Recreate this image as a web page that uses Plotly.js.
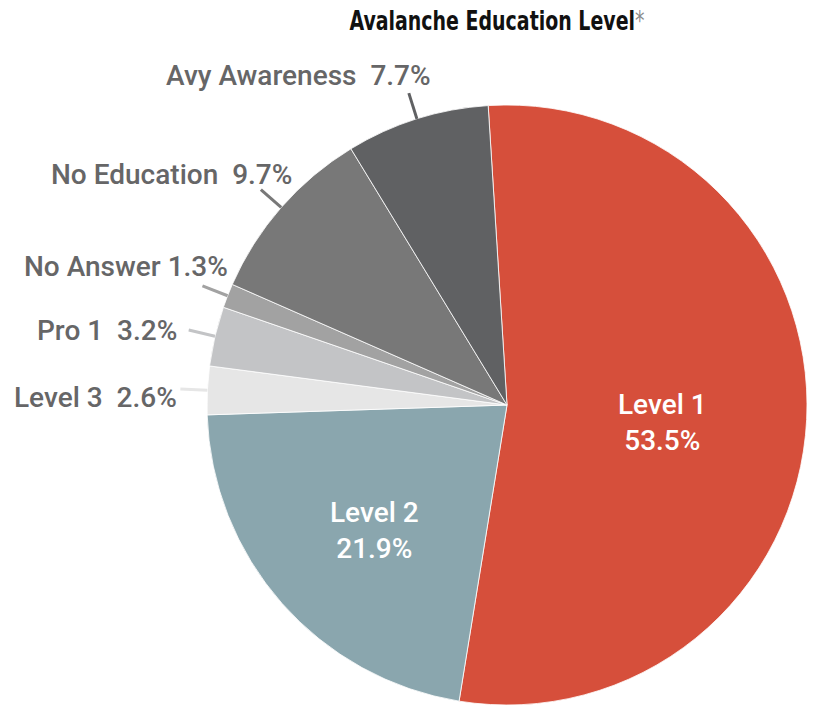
<!DOCTYPE html>
<html>
<head>
<meta charset="utf-8">
<script src="https://cdn.plot.ly/plotly-3.0.1.min.js"></script>
<style>html,body{margin:0;padding:0;background:#fff;}#chart{width:816px;height:705px;}</style>
</head>
<body>
<div id="chart"></div>
<script>
// ---- data ----
var categories = ["Level 1", "Level 2", "Level 3", "Pro 1", "No Answer", "No Education", "Avy Awareness"];
var percents   = [53.5, 21.9, 2.6, 3.2, 1.3, 9.7, 7.7];
var sliceColors = ["#d64f3b", "#8aa6ae", "#e6e6e6", "#c3c4c6", "#a2a2a2", "#787878", "#606163"];
var outsideLabelText = ["", "", "Level 3  2.6%", "Pro 1  3.2%", "No Answer 1.3%", "No Education  9.7%", "Avy Awareness  7.7%"];

// ---- layout config ----
var W = 816, H = 705;
var CX = 507, CY = 405, R = 300;
var ROT = -3.6;
var FONT = "Roboto, 'Liberation Sans Narrow', sans-serif";
var TITLE_W = 295, TITLE_CX = 497;
// label anchor (right edge, vertical middle) for outside labels, in px
var outsidePos = {
  "Level 3": [179, 397],
  "Pro 1": [179, 330],
  "No Answer": [230, 266],
  "No Education": [294, 174],
  "Avy Awareness": [433, 75]
};
var insidePos = {"Level 1": [662, 422], "Level 2": [374, 530]};

function px(x){ return x / W; }
function py(y){ return 1 - y / H; }

var total = percents.reduce(function(a,b){return a+b;}, 0);
var annotations = [];
var shapes = [];
var cum = 0;
for (var i = 0; i < categories.length; i++) {
  var a0 = ROT + cum / total * 360;
  cum += percents[i];
  var a1 = ROT + cum / total * 360;
  var mid = (a0 + a1) / 2 * Math.PI / 180;
  var name = categories[i];
  if (insidePos[name]) {
    annotations.push({
      xref: 'paper', yref: 'paper', x: px(insidePos[name][0]), y: py(insidePos[name][1]),
      xanchor: 'center', yanchor: 'middle', showarrow: false,
      text: name + '<br>' + percents[i].toFixed(1) + '%',
      font: {family: FONT, size: 28, color: '#ffffff', weight: 500}
    });
  } else {
    var r1 = R, r2 = R + 27;
    var x0 = CX + r1 * Math.sin(mid), y0 = CY - r1 * Math.cos(mid);
    var x1 = CX + r2 * Math.sin(mid), y1 = CY - r2 * Math.cos(mid);
    shapes.push({type: 'line', xref: 'paper', yref: 'paper',
      x0: px(x0), y0: py(y0), x1: px(x1), y1: py(y1),
      line: {color: sliceColors[i], width: 3}});
    annotations.push({
      xref: 'paper', yref: 'paper', x: px(outsidePos[name][0]), y: py(outsidePos[name][1]),
      xanchor: 'right', yanchor: 'middle', showarrow: false,
      text: outsideLabelText[i],
      font: {family: FONT, size: 28, color: '#666667', weight: 500}
    });
  }
}

var trace = {
  type: 'pie',
  labels: categories,
  values: percents,
  sort: false,
  direction: 'clockwise',
  rotation: ROT,
  textinfo: 'none',
  hoverinfo: 'label+percent',
  marker: {colors: sliceColors, line: {color: '#ffffff', width: 0.8}},
  domain: {x: [px(CX - R), px(CX + R)], y: [py(CY + R), py(CY - R)]},
  showlegend: false
};

var layout = {
  width: W, height: H,
  margin: {l: 0, r: 0, t: 0, b: 0},
  paper_bgcolor: '#ffffff',
  title: {
    text: 'Avalanche Education Level<span style="color:#8a8a8a;font-weight:normal">*</span>',
    x: px(TITLE_CX), xanchor: 'center', y: py(21), yanchor: 'middle', yref: 'container',
    font: {family: "'DejaVu Sans Condensed', 'DejaVu Sans', sans-serif", size: 27, color: '#111111', weight: 'bold', stretch: 'condensed'}
  },
  annotations: annotations,
  shapes: shapes,
  showlegend: false
};

Plotly.newPlot('chart', [trace], layout, {displayModeBar: false, staticPlot: true}).then(function(gd){
  var t = gd.querySelector('.gtitle');
  if (t) {
    var bb = t.getBBox();
    if (bb.width > 0) {
      var s = TITLE_W / bb.width;
      var cx = bb.x + bb.width / 2;
      var g = t.parentNode;
      g.setAttribute('transform', 'translate(' + (TITLE_CX - s * cx) + ',0) scale(' + s + ',1)');
    }
  }
});
</script>
</body>
</html>
